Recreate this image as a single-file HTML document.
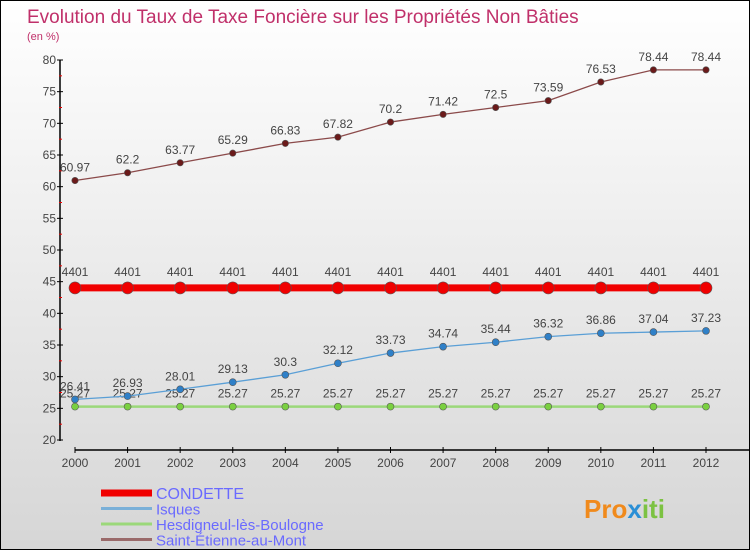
<!DOCTYPE html>
<html><head><meta charset="utf-8"><style>
html,body{margin:0;padding:0}
body{width:750px;height:550px;overflow:hidden;font-family:"Liberation Sans",sans-serif}
#wrap{position:relative;width:748px;height:548px;border:1px solid #000;background:linear-gradient(#ffffff,#d6d6d6)}
</style></head><body>
<div id="wrap">
<svg id="chart" width="748" height="548" xmlns="http://www.w3.org/2000/svg">
<text x="26" y="22" font-size="19" fill="#c0306a">Evolution du Taux de Taxe Foncière sur les Propriétés Non Bâties</text>
<text x="26" y="39" font-size="11" fill="#c0306a">(en %)</text>
<g id="axes"></g><g id="series"></g><g id="legend"></g>
<text x="583" y="517" font-size="26" font-weight="bold" fill="#f08a1c">Pro<tspan fill="#2a8fd6">x</tspan><tspan fill="#7cc242">iti</tspan></text>
</svg></div>
<script>
const years=[2000,2001,2002,2003,2004,2005,2006,2007,2008,2009,2010,2011,2012];
const condette=[44.01,44.01,44.01,44.01,44.01,44.01,44.01,44.01,44.01,44.01,44.01,44.01,44.01];
const condetteLabels=["4401","4401","4401","4401","4401","4401","4401","4401","4401","4401","4401","4401","4401"];
const isques=[26.41,26.93,28.01,29.13,30.3,32.12,33.73,34.74,35.44,36.32,36.86,37.04,37.23];
const hesdigneul=[25.27,25.27,25.27,25.27,25.27,25.27,25.27,25.27,25.27,25.27,25.27,25.27,25.27];
const stEtienne=[60.97,62.2,63.77,65.29,66.83,67.82,70.2,71.42,72.5,73.59,76.53,78.44,78.44];
const yTicks=[20,25,30,35,40,45,50,55,60,65,70,75,80];
const NS="http://www.w3.org/2000/svg";
function X(i){return 74+i*(705-74)/(years.length-1);}
function Y(v){return 439-(v-20)*(439-59)/60;}
function mk(tag,attrs,parent){const e=document.createElementNS(NS,tag);for(const k in attrs)e.setAttribute(k,attrs[k]);parent.appendChild(e);return e;}
const axes=document.getElementById('axes'),ser=document.getElementById('series'),leg=document.getElementById('legend');
let a=mk('line',{x1:59,y1:59,x2:59,y2:440,stroke:'#000','stroke-width':1.5},axes);


a=mk('line',{x1:74,y1:449,x2:749,y2:449,stroke:'#000','stroke-width':1.5},axes);


yTicks.forEach((t,i)=>{
  const y=Y(t);
  mk('line',{x1:56,y1:y,x2:62,y2:y,stroke:'#000'},axes);
  if(i<yTicks.length-1)mk('line',{x1:58,y1:Y(t+2.5),x2:61,y2:Y(t+2.5),stroke:'#e00'},axes);
  const tx=mk('text',{x:55,y:y+4,'text-anchor':'end','font-size':12,fill:'#444'},axes);tx.textContent=t;
  
  
});
years.forEach((yr,i)=>{
  mk('line',{x1:X(i),y1:446,x2:X(i),y2:452,stroke:'#000'},axes);
  const tx=mk('text',{x:X(i),y:466,'text-anchor':'middle','font-size':12,fill:'#444'},axes);tx.textContent=yr;
  
  
});
function series(vals,labels,color,fill,w,r,name,dy){
  const g=mk('g',{},ser);
  
  
  const p=mk('polyline',{points:vals.map((v,i)=>X(i)+','+Y(v)).join(' '),fill:'none',stroke:color,'stroke-width':w},g);
  
  
  vals.forEach((v,i)=>{
    const c=mk('circle',{cx:X(i),cy:Y(v),r:r,fill:fill,stroke:'#555','stroke-width':0.6},g);
    
    
    const t=mk('text',{x:X(i),y:Y(v)-dy,'text-anchor':'middle','font-size':12,fill:'#444'},g);
    t.textContent=labels?labels[i]:String(v);
    
    
  });
}
series(stEtienne,null,'#8b4a4a','#6b1a1a',1.3,3.2,'saint-etienne',9);
series(hesdigneul,null,'#9bd87a','#7ad040',2.5,3.5,'hesdigneul',9);
series(isques,null,'#5a9fd6','#2f80c8',1.3,3.5,'isques',9);
series(condette,condetteLabels,'#f00000','#f00000',7,6,'condette',12);
const legendItems=[['CONDETTE','#f00000',7],['Isques','#7ab0d8',3],['Hesdigneul-lès-Boulogne','#9bd87a',3],['Saint-Étienne-au-Mont','#9a6a6a',3]];
legendItems.forEach((it,i)=>{
  const y=492+i*15.5;
  const l=mk('line',{x1:100,y1:y,x2:151,y2:y,stroke:it[1],'stroke-width':it[2]},leg);
  
  
  const t=mk('text',{x:155,y:y+6,'font-size':i==0?16:15,fill:'#6a6aff'},leg);t.textContent=it[0];
  
  
});
</script>
</body></html>
